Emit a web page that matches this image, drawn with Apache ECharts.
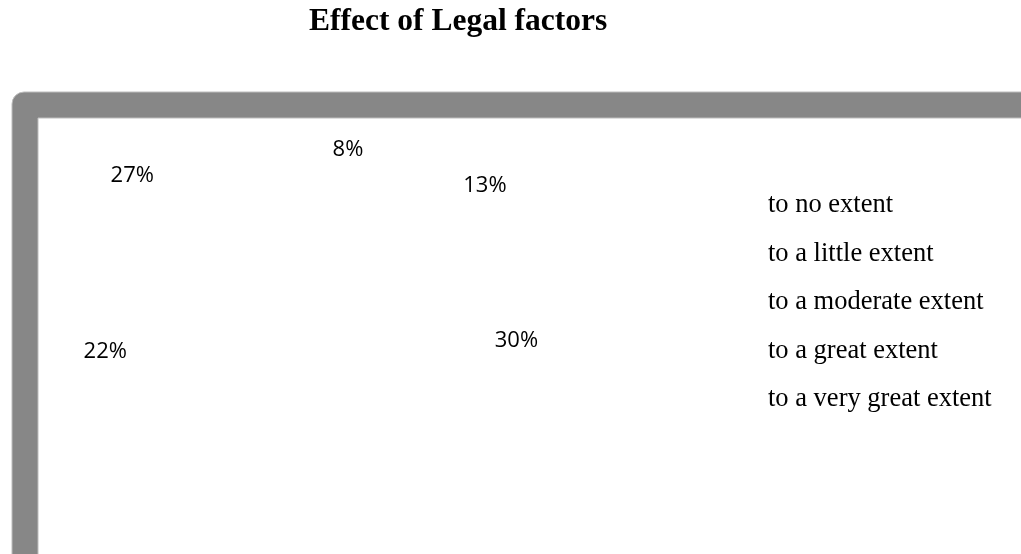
<!DOCTYPE html>
<html>
<head>
<meta charset="utf-8">
<style>
  html, body { margin: 0; padding: 0; background: #ffffff; }
  #chart { width: 1021px; height: 554px; }
</style>
<script src="https://cdn.jsdelivr.net/npm/echarts@6/dist/echarts.min.js"></script>
</head>
<body>
<div id="chart"></div>
<script>
// ---- data ----
const categories = ['to no extent', 'to a little extent', 'to a moderate extent', 'to a great extent', 'to a very great extent'];
const percentValues = [8, 13, 30, 22, 27];
const chartTitle = 'Effect of Legal factors';

// ---- layout / style ----
const pieCenter = [314, 286];
const labelRadius = 226;          // horizontal radius of the (tilted) pie label ring
const tilt = 136 / 226;           // vertical squash of the 3D pie
const labelNudge = [[-23, -3], [-10, -16], [26, -33], [-52, -35], [-10, -19]];

const chart = echarts.init(document.getElementById('chart'), null, { renderer: 'canvas' });

const seriesData = categories.map((name, i) => ({ name: name, value: percentValues[i] }));

chart.setOption({
  backgroundColor: '#ffffff',
  animation: false,
  title: {
    text: chartTitle,
    left: 304,
    top: 1,
    textStyle: {
      fontFamily: 'Liberation Serif',
      fontWeight: 'bold',
      fontSize: 31.5,
      color: '#000000'
    }
  },
  graphic: [
    {
      type: 'rect', z: 0, silent: true,
      shape: { x: 12, y: 92, width: 1100, height: 600, r: [12, 0, 0, 0] },
      style: { fill: '#878787', stroke: '#bdbdbd', lineWidth: 1 }
    },
    {
      type: 'rect', z: 0, silent: true,
      shape: { x: 38, y: 118, width: 1100, height: 600 },
      style: { fill: '#ffffff', stroke: '#bdbdbd', lineWidth: 1 }
    }
  ],
  legend: {
    orient: 'vertical',
    left: 757,
    top: 187,
    itemWidth: 1,
    itemHeight: 14,
    itemGap: 21.5,
    icon: 'rect',
    itemStyle: { opacity: 0, borderWidth: 0 },
    data: categories,
    textStyle: {
      fontFamily: 'Liberation Serif',
      fontSize: 26.5,
      lineHeight: 26.5,
      color: '#000000'
    }
  },
  series: [{
    type: 'pie',
    center: pieCenter,
    radius: [labelRadius - 10, labelRadius + 10],
    startAngle: 90,
    clockwise: true,
    silent: true,
    itemStyle: { color: 'rgba(0,0,0,0)', borderWidth: 0 },
    label: {
      show: true,
      position: 'inside',
      formatter: '{c}%',
      fontFamily: 'Open Sans',
      fontSize: 22,
      color: '#000000'
    },
    labelLine: { show: false },
    labelLayout: function (p) {
      const r = p.labelRect;
      const ly = r.y + r.height / 2;
      const n = labelNudge[p.dataIndex] || [0, 0];
      return { dx: n[0], dy: (ly - pieCenter[1]) * (tilt - 1) + n[1] };
    },
    data: seriesData
  }]
});
</script>
</body>
</html>
